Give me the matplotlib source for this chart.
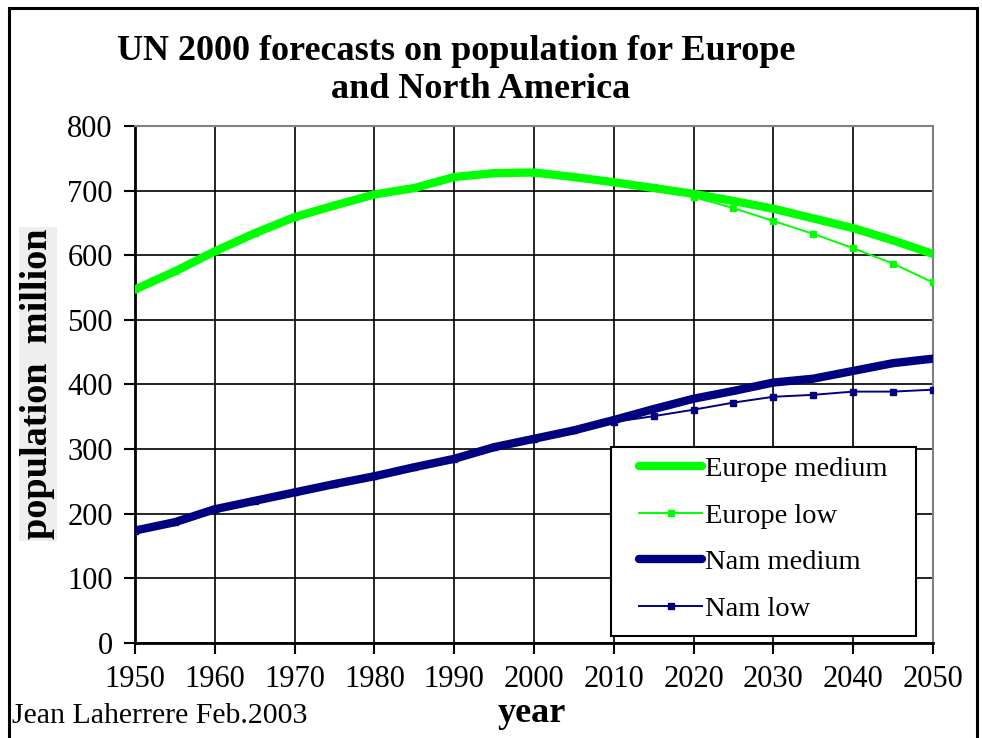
# UN 2000 population forecasts, Europe vs North America
import matplotlib.pyplot as plt
from matplotlib.patches import Rectangle

plt.rcParams['font.family'] = ['Liberation Serif', 'DejaVu Serif']

# data (million), every 5 years
years = [1950, 1955, 1960, 1965, 1970, 1975, 1980, 1985, 1990, 1995, 2000,
         2005, 2010, 2015, 2020, 2025, 2030, 2035, 2040, 2045, 2050]
europe_medium = [547, 575, 606, 634, 659, 677, 694, 704, 721, 727, 728,
                 721, 713, 704, 695, 684, 672, 657, 642, 623, 602]
europe_low = [547, 575, 606, 634, 659, 677, 694, 704, 721, 727, 728,
              721, 713, 705, 690, 673, 653, 633, 611, 587, 558]
nam_medium = [174, 187, 207, 220, 233, 246, 258, 272, 285, 303, 316,
              329, 345, 362, 378, 390, 403, 409, 421, 433, 440]
nam_low = [174, 187, 207, 220, 233, 246, 258, 272, 285, 303, 316,
           329, 342, 351, 361, 372, 381, 384, 389, 389, 392]

green = '#00ff00'
navy = '#000080'

fig = plt.figure(figsize=(9.82, 7.38), dpi=100)
ax = fig.add_axes([0.1375, 0.1287, 0.8125, 0.7006])

ax.plot(years, europe_medium, color=green, lw=6, solid_capstyle='round',
        solid_joinstyle='round', label='Europe medium', zorder=4)
ax.plot(years, europe_low, color=green, lw=1.4, marker='s', markersize=4,
        label='Europe low', zorder=3)
ax.plot(years, nam_medium, color=navy, lw=6, solid_capstyle='round',
        solid_joinstyle='round', label='Nam medium', zorder=4)
ax.plot(years, nam_low, color=navy, lw=1.4, marker='s', markersize=4,
        label='Nam low', zorder=3)

ax.set_xlim(1950, 2050)
ax.set_ylim(0, 800)
ax.set_xticks(range(1950, 2051, 10))
ax.set_yticks(range(0, 801, 100))
ax.grid(True, color='black', lw=1.2)
ax.set_axisbelow(True)
ax.tick_params(labelsize=22, direction='out', length=8, width=1.5, pad=8)

ax.spines['left'].set_linewidth(2)
ax.spines['bottom'].set_linewidth(2)
ax.spines['top'].set_color('#808080')
ax.spines['right'].set_color('#808080')
ax.spines['top'].set_linewidth(1.5)
ax.spines['right'].set_linewidth(1.5)

# legend box drawn separately so the padding can differ per side
box = (0.596, 0.0135, 0.383, 0.366)
ax.add_patch(Rectangle(box[:2], box[2], box[3], transform=ax.transAxes,
                       facecolor='white', edgecolor='black', lw=1.5,
                       zorder=5))
leg = ax.legend(loc='upper left', bbox_to_anchor=(0.632, 0.361),
                fontsize=20.5, frameon=False, handlelength=2.2,
                handletextpad=0.1, labelspacing=0.72, borderpad=0,
                borderaxespad=0)
leg.set_zorder(6)

# title in two lines
fig.text(456 / 982, 1 - 52 / 738, 'UN 2000 forecasts on population for Europe',
         ha='center', va='center', fontsize=26, fontweight='bold')
fig.text(481 / 982, 1 - 89 / 738, 'and North America',
         ha='center', va='center', fontsize=26, fontweight='bold')

fig.text(38 / 982, 1 - 384 / 738, 'population  million', rotation=90,
         ha='center', va='center', fontsize=27.5, fontweight='bold',
         bbox=dict(facecolor='#eeeeee', edgecolor='none', pad=1))
fig.text(532 / 982, 1 - 713 / 738, 'year', ha='center', va='center',
         fontsize=26, fontweight='bold')
fig.text(12 / 982, 1 - 716 / 738, 'Jean Laherrere Feb.2003', ha='left',
         va='center', fontsize=21.5)

# outer frame
fig.add_artist(Rectangle((9 / 982, -0.05), 968 / 982, 1.05 - 8 / 738,
                         transform=fig.transFigure, fill=False, lw=2.2,
                         edgecolor='black'))

fig.savefig('out.png', dpi=100)
